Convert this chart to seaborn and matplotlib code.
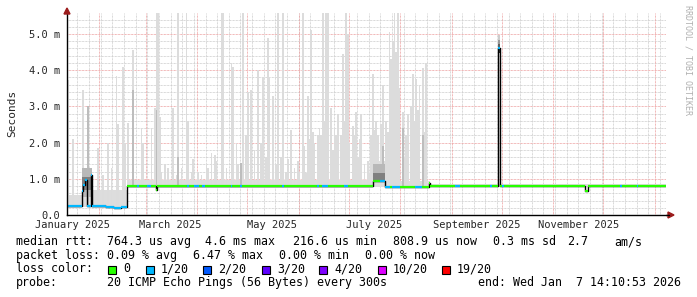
import numpy as np
import pandas as pd
import matplotlib
matplotlib.use("Agg")
import matplotlib.pyplot as plt
import seaborn as sns
from matplotlib.patches import Rectangle, Polygon
from matplotlib.lines import Line2D
from datetime import date, timedelta

# ---------------- data (x: days since 2025-01-01, y: milliseconds) ----------------
median_day = [11.78, 20.6, 21.5, 22.3, 24.0, 26.0, 27.0, 35, 40, 44, 47.8, 54, 55, 60, 62,
              65, 66, 84, 85, 88, 91, 93, 94.5, 110, 111, 116, 117, 141, 142, 162, 163,
              165, 168.5, 178, 180.5, 195.6, 199.6, 202.8, 206, 207, 212, 221, 225, 229,
              230, 245, 248, 266, 267, 270.6, 272.0, 273, 274.5, 323.2, 325, 344, 345,
              354, 355, 371.6]
median_ms = [0.25, 0.65, 0.82, 0.97, 0.25, 1.10, 0.25, 0.22, 0.20, 0.22, 0.79, 0.79, 0.79, 0.79, 0.79,
             0.68, 0.79, 0.79, 0.79, 0.79, 0.79, 0.79, 0.79, 0.79, 0.79, 0.79, 0.79, 0.79, 0.79, 0.79, 0.79,
             0.79, 0.79, 0.79, 0.79, 0.93, 0.94, 0.78, 0.78, 0.78, 0.78, 0.78, 0.78, 0.88,
             0.81, 0.81, 0.81, 0.81, 0.81, 4.60, 0.81, 0.81, 0.81, 0.65, 0.81, 0.81, 0.81,
             0.81, 0.81, 0.81]
median_loss = [1, 1, 1, 1, 1, 1, 1, 1, 1, 1, 0, 1, 0, 1, 0,
               0, 0, 1, 0, 1, 0, 1, 0, 1, 0, 1, 0, 1, 0, 1, 0,
               1, 0, 1, 0, 0, 1, 1, 0, 1, 0, 1, 0, 0,
               0, 1, 0, 1, 0, 1, 0, 1, 0, 0, 0, 1, 0,
               1, 0, 0]

loss_labels = ["0", "1/20", "2/20", "3/20", "4/20", "10/20", "19/20"]
loss_colors = ["#26ff00", "#00b8ff", "#0059ff", "#5e00ff", "#7e00ff", "#dd00ff", "#ff0000"]

# base smoke band (step-post)
smoke_day = [11.78, 20.5, 27.0, 47.8, 195.6, 203.0, 230.0, 371.6]
smoke_lo = [0.20, 0.22, 0.18, 0.74, 0.78, 0.74, 0.78, 0.78]
smoke_hi = [0.55, 1.30, 0.70, 0.98, 1.50, 0.93, 0.86, 0.86]

# darker smoke around transitions
mid_start = [20.6, 195.6]
mid_end = [27.0, 202.8]
mid_lo = [0.50, 0.90]
mid_hi = [1.30, 1.40]
deep_lo = [0.70, 0.92]
deep_hi = [1.05, 1.16]

# September spike smoke layers
sep_day = [270.6, 272.0]
sep_levels = [4.48, 4.60, 4.72, 4.84, 4.97]

# light grey smoke spikes (day, top ms)
spike_day = [12, 15, 21, 30, 33, 36, 38, 41, 42, 45, 46, 48, 51, 56, 57, 62, 64, 65, 66, 67,
             75, 78, 83, 84, 87, 90, 95, 96, 98, 100, 104, 105, 110, 111, 113, 117, 120, 122,
             126, 129, 132, 133, 135, 138, 141, 144, 146, 150, 153, 155, 156, 158, 159, 162,
             164, 165, 167, 168, 170, 173, 174, 177, 179, 180, 183, 185, 186, 188, 193, 195,
             196, 198, 201, 203, 205, 207, 208, 210, 213, 214, 216, 219, 221, 223, 225, 227,
             154, 157, 160, 163, 166, 171, 172, 176, 178, 181, 184, 187,
             190, 192, 194, 197, 200, 204, 206, 209, 211, 215,
             218, 220, 222, 226,
             68, 70, 72, 77, 80, 86, 92, 101, 107, 114, 119, 124, 128, 131, 137, 140, 143,
             148, 151]
spike_top = [3.73, 2.10, 3.45, 1.85, 1.10, 2.00, 1.30, 3.84, 2.50, 4.10, 2.00, 2.55, 4.55, 2.40, 2.00, 2.40, 2.95, 5.60, 5.60, 2.70,
             2.95, 5.60, 5.60, 2.60, 1.55, 1.20, 1.40, 1.30, 1.70, 1.65, 5.60, 5.60, 4.20, 4.10, 2.00, 5.60, 3.40, 3.45,
             4.00, 3.80, 4.90, 3.80, 3.30, 5.60, 5.60, 1.55, 2.35, 1.50, 5.60, 1.15, 3.30, 5.10, 2.30, 2.20,
             2.20, 5.60, 5.60, 5.60, 2.95, 2.20, 2.80, 4.45, 5.60, 5.00, 2.45, 2.85, 1.60, 2.80, 1.15, 3.90,
             2.35, 2.20, 3.60, 2.60, 5.06, 4.80, 5.60, 5.60, 2.85, 1.60, 2.80, 3.90, 3.75, 3.60, 4.05, 4.20,
             1.90, 2.10, 2.00, 2.40, 2.60, 1.80, 2.40, 2.20, 2.60, 2.00, 2.20, 2.10,
             1.40, 1.50, 2.20, 2.60, 2.50, 2.30, 4.30, 4.50, 3.50, 2.20,
             3.00, 2.60, 2.90, 2.30,
             1.20, 1.40, 1.30, 1.10, 1.30, 1.20, 1.10, 1.50, 1.30, 1.40, 2.20, 1.80, 2.00, 1.60, 1.40, 1.60, 1.20,
             1.30, 1.20]

# medium grey spikes
dark_spike_day = [24, 51, 65, 78, 116, 201, 213, 225]
dark_spike_top = [3.00, 3.45, 2.90, 1.60, 1.45, 1.90, 2.40, 2.20]

# statistics / legend text
rtt_stats = ["764.3 us avg", "4.6 ms max", "216.6 us min", "808.9 us now", "0.3 ms sd", "2.7", "am/s"]
loss_stats = ["0.09 % avg", "6.47 % max", "0.00 % min", "0.00 % now"]
probe_text = "20 ICMP Echo Pings (56 Bytes) every 300s"
end_text = "end: Wed Jan  7 14:10:53 2026"
y_ticks = [0, 1, 2, 3, 4, 5]
y_ticklabels = ["0.0", "1.0 m", "2.0 m", "3.0 m", "4.0 m", "5.0 m"]
x_label_months = [(2025, 1), (2025, 3), (2025, 5), (2025, 7), (2025, 9), (2025, 11)]

# ---------------- figure ----------------
sns.set_style("white")
plt.rcParams["font.family"] = ["DejaVu Sans Mono"]

W, H = 697, 297
fig = plt.figure(figsize=(W / 100, H / 100), dpi=100)
fig.patch.set_facecolor("white")
L, R, T, B = 67, 666, 13, 215
ax = fig.add_axes([L / W, 1 - B / H, (R - L) / W, (B - T) / H])
ax.set_facecolor("white")

x0, x1 = 11.78, 371.6
ax.set_xlim(x0, x1)
ax.set_ylim(0, 5.58)

base = date(2025, 1, 1)
def doy(d):
    return (d - base).days

# grid
dash = (0, (0.72, 0.72))
for v in np.arange(0.2, 5.5, 0.2):
    if abs(v - round(v)) > 1e-6:
        ax.axhline(v, color="#cccccc", lw=0.72, ls=dash, zorder=0)
d = base
while doy(d) < x1:
    if d.weekday() == 6 and doy(d) > x0:
        ax.axvline(doy(d), color="#cccccc", lw=0.72, ls=dash, zorder=0)
    d += timedelta(days=1)
for v in range(1, 6):
    ax.axhline(v, color="#eda0a0", lw=0.72, ls=dash, zorder=0.5)
months = [date(2025, m, 1) for m in range(2, 13)] + [date(2026, 1, 1)]
for m in months:
    ax.axvline(doy(m), color="#eda0a0", lw=0.72, ls=dash, zorder=0.5)

# median lookup for smoke bottoms
md = np.array(median_day)
mm = np.array(median_ms)
def med_at(x):
    i = np.clip(np.searchsorted(md, x, side="right") - 1, 0, len(mm) - 1)
    return mm[i]

# base smoke
ax.fill_between(smoke_day, smoke_lo, smoke_hi, step="post", color="#dddddd", lw=0, zorder=1)

# spikes
sd = np.array(spike_day, dtype=float)
st = np.array(spike_top)
bot = med_at(sd)
ax.bar(sd, st - bot, bottom=bot, width=1.0, align="edge", color="#dcdcdc", lw=0, zorder=1.2)
dsd = np.array(dark_spike_day, dtype=float)
dst = np.array(dark_spike_top)
dbot = med_at(dsd)
ax.bar(dsd, dst - dbot, bottom=dbot, width=1.0, align="edge", color="#bdbdbd", lw=0, zorder=1.3)

# darker bands
for s, e, lo, hi in zip(mid_start, mid_end, mid_lo, mid_hi):
    ax.fill_between([s, e], lo, hi, color="#b8b8b8", lw=0, zorder=1.5)
for s, e, lo, hi in zip(mid_start, mid_end, deep_lo, deep_hi):
    ax.fill_between([s, e], lo, hi, color="#808080", lw=0, zorder=1.6)

# Sept spike smoke gradient
sep_cols = ["#303030", "#606060", "#999999", "#cccccc"]
for i in range(len(sep_levels) - 1):
    ax.fill_between(sep_day, sep_levels[i], sep_levels[i + 1], color=sep_cols[i], lw=0, zorder=1.7)

# median: black step line (seaborn) + loss-coloured segments
df = pd.DataFrame({"day": median_day, "ms": median_ms})
sns.lineplot(data=df, x="day", y="ms", drawstyle="steps-post", color="black", lw=1.0,
             ax=ax, zorder=3, estimator=None, sort=False)
for i in range(len(median_day) - 1):
    ax.hlines(median_ms[i], median_day[i], median_day[i + 1], color=loss_colors[median_loss[i]],
              lw=1.6, zorder=4)

# axes styling
for s in ["top", "right"]:
    ax.spines[s].set_visible(False)
for s in ["left", "bottom"]:
    ax.spines[s].set_color("black")
    ax.spines[s].set_linewidth(1.0)
    ax.spines[s].set_zorder(5)
ax.set_xlabel("")
ax.set_ylabel("")
ax.set_yticks(y_ticks)
ax.set_yticklabels(y_ticklabels)
lab_pos = [doy(date(y, m, 16)) for y, m in x_label_months]
ax.set_xticks(lab_pos)
ax.set_xticklabels([date(y, m, 1).strftime("%B %Y") for y, m in x_label_months])
ax.tick_params(axis="x", length=0, pad=3.3, labelsize=7.5)
ax.tick_params(axis="y", length=2, width=0.8, pad=3, labelsize=7.5, direction="out", color="black")

# axis arrows
arrow_c = "#9b1c1c"
fig.add_artist(Line2D([R / W, 669 / W], [1 - B / H, 1 - B / H], color="black", lw=1.0))
fig.add_artist(Polygon([[668 / W, 1 - 212 / H], [674 / W, 1 - 215 / H], [668 / W, 1 - 218 / H]],
                       closed=True, color=arrow_c, transform=fig.transFigure))
fig.add_artist(Polygon([[64 / W, 1 - 14 / H], [67 / W, 1 - 8 / H], [70 / W, 1 - 14 / H]],
                       closed=True, color=arrow_c, transform=fig.transFigure))

# y label and watermark
fig.text(12 / W, 1 - 113.5 / H, "Seconds", rotation=90, ha="center", va="center", fontsize=8)
fig.text(688 / W, 1 - 5 / H, "RRDTOOL / TOBI OETIKER", rotation=270, ha="center", va="top",
         fontsize=6, color="#b0b0b0")

# legend rows
fs = 8.4
def ftxt(x, y, s):
    fig.text(x / W, 1 - y / H, s, ha="left", va="center", fontsize=fs, color="black")

row1, row2, row3, row4 = 241.7, 255.2, 269.0, 282.7
ftxt(16, row1, "median rtt:")
for x, s in zip([107, 205, 293, 393, 493, 567, 614], rtt_stats):
    ftxt(x, row1, s)
ftxt(16, row2, "packet loss:")
for x, s in zip([107, 193, 279, 365], loss_stats):
    ftxt(x, row2, s)
ftxt(16, row3, "loss color:")
box_x = [108, 146, 203, 262, 319, 378, 442]
for bx, lab, col in zip(box_x, loss_labels, loss_colors):
    fig.add_artist(Rectangle((bx / W, 1 - 273.5 / H), 8 / W, 8 / H, transform=fig.transFigure,
                             facecolor=col, edgecolor="black", lw=0.8))
    ftxt(bx + 15, row3, lab)
ftxt(16, row4, "probe:")
ftxt(107, row4, probe_text)
ftxt(478, row4, end_text)

fig.savefig("out.png", dpi=100, facecolor="white")
